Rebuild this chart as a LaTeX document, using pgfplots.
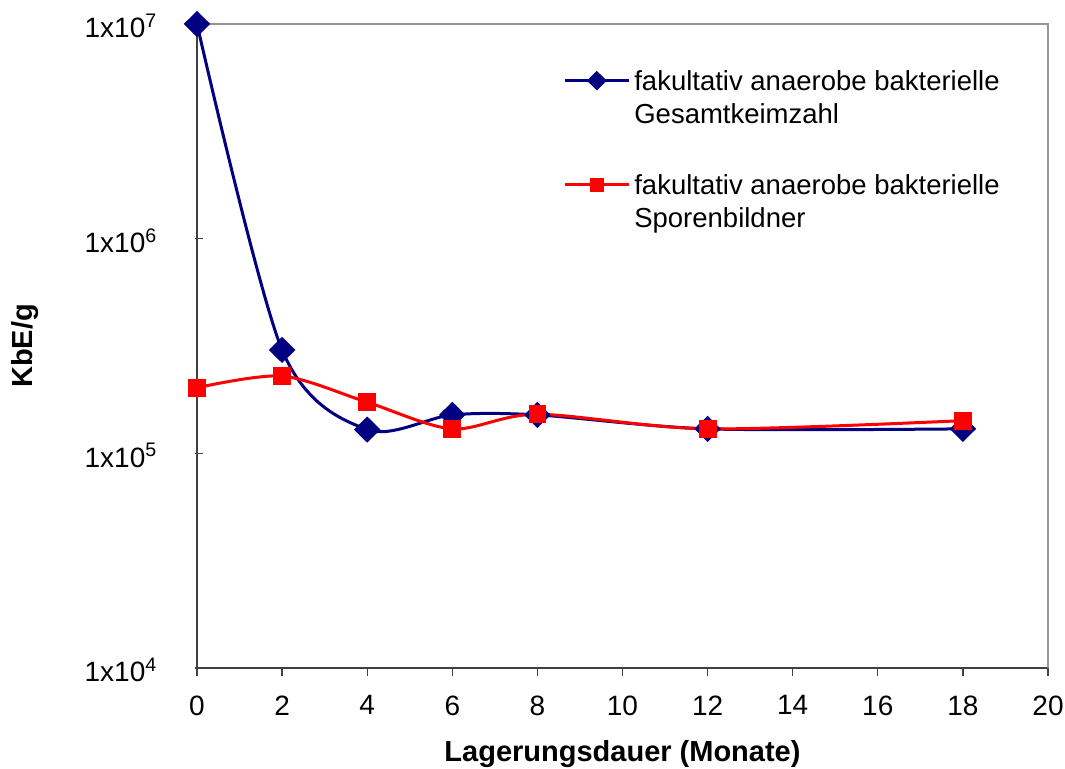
\documentclass[border=0pt]{standalone}
\usepackage{pgfplots}
\pgfplotsset{compat=1.18}
\usepackage{fontspec}
\setmainfont{Liberation Sans}
\definecolor{navyblue}{RGB}{0,0,128}
\definecolor{axgray}{RGB}{64,64,64}
\definecolor{frgray}{RGB}{150,150,150}

\pgfplotstableread{
x y
0 1.0e7
2 3.03e5
4 1.29e5
6 1.51e5
8 1.51e5
12 1.30e5
18 1.30e5
}\gesamt
\pgfplotstableread{
x y
0 2.02e5
2 2.29e5
4 1.73e5
6 1.30e5
8 1.52e5
12 1.30e5
18 1.42e5
}\sporen

\newcommand{\twoline}[2]{\vtop{\hbox{\strut #1}\hbox{\strut #2}}}

\begin{document}
\fontsize{14}{16.5}\selectfont
\begin{tikzpicture}
\begin{axis}[
  scale only axis, width=425.5pt, height=322pt,
  ymode=log, xmin=0, xmax=20, ymin=1e4, ymax=1e7,
  xtick={0,2,...,20},
  ytick={1e4,1e5,1e6,1e7},
  yticklabels={1x10\textsuperscript{4},1x10\textsuperscript{5},1x10\textsuperscript{6},1x10\textsuperscript{7}},
  minor tick num=0, yminorticks=false,
  /pgf/number format/assume math mode=true,
  axis lines*=left,
  axis line style={draw=axgray, line width=0.9pt, -},
  tick align=outside, major tick length=4pt,
  tick style={draw=axgray, line width=0.6pt},
  ytick style={xshift=3pt},
  tick label style={font=\fontsize{14}{16}\selectfont},
  x tick label style={yshift=-5pt},
  y tick label style={xshift=-11pt, yshift=-1pt},
  xlabel={\bfseries Lagerungsdauer (Monate)},
  ylabel={\bfseries KbE/g},
  label style={font=\fontsize{14.5}{16}\selectfont},
  xlabel style={yshift=-3pt},
  ylabel style={yshift=13.5pt},
  legend cell align=left,
  legend style={draw=none, fill=none, at={(rel axis cs:0.43,0.94)}, anchor=north west,
    inner sep=0pt, row sep=34.5pt, font=\fontsize{13.75}{16.5}\selectfont,
    nodes={inner sep=2pt}},
  legend image code/.code={\draw[mark repeat=2,mark phase=2,/tikz/every mark/.append style={scale=0.7}] plot coordinates {(0pt,0pt) (16pt,0pt) (32pt,0pt)};},
  clip=false,
]
\coordinate (O) at (rel axis cs:0,0);
\draw[frgray, line width=0.8pt] (rel axis cs:0,1) -- (rel axis cs:1,1) -- (rel axis cs:1,0);
\addplot[navyblue, line width=1.5pt, smooth, mark=diamond*, mark size=5.5pt,
  mark options={xscale=1.35, fill=navyblue, draw=navyblue}] table {\gesamt};
\addlegendentry{\twoline{fakultativ anaerobe bakterielle}{Gesamtkeimzahl}}
\addplot[red, line width=1.5pt, smooth, mark=square*, mark size=3.7pt,
  mark options={fill=red, draw=red}] table {\sporen};
\addlegendentry{\twoline{fakultativ anaerobe bakterielle}{Sporenbildner}}
\end{axis}
\pgfresetboundingbox
\path[use as bounding box] ([shift={(-98.5pt,-50.5pt)}]O) rectangle ([shift={(434pt,334pt)}]O);
\end{tikzpicture}
\end{document}
